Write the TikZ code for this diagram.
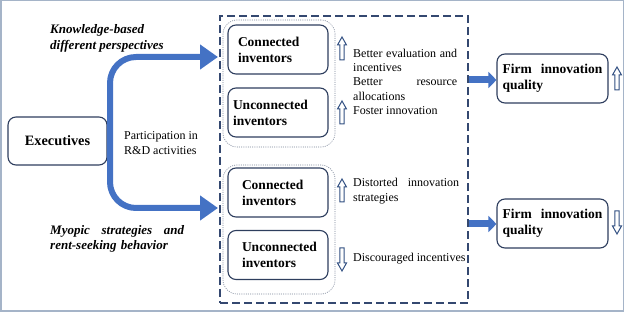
\documentclass[tikz,border=0pt]{standalone}
\usepackage{fontspec}
\setmainfont{Liberation Serif}
\usetikzlibrary{arrows.meta}
\definecolor{arrowblue}{RGB}{68,114,196}
\definecolor{boxline}{RGB}{46,62,94}
\definecolor{dashline}{RGB}{52,72,112}
\definecolor{dotline}{RGB}{120,130,150}
\definecolor{framecol}{RGB}{165,180,200}
\definecolor{hollowline}{RGB}{50,80,130}
\newcommand{\nsp}{\spaceskip=0pt\xspaceskip=0pt\relax}
\newcommand{\jline}[2]{\leavevmode\hbox to #1{#2}}
\tikzset{
  uparrowpic/.pic={\draw[draw=hollowline, fill=white, line width=1pt, line join=miter]
    (0,-11.5) -- (4.5,-3.5) -- (2.2,-3.5) -- (2.2,11.5) -- (-2.2,11.5) -- (-2.2,-3.5) -- (-4.5,-3.5) -- cycle;}
}
\begin{document}
\begin{tikzpicture}[x=1pt,y=-1pt,
  rbox/.style={draw=boxline, line width=1.1pt, rounded corners=8pt, inner sep=0pt,
    minimum height=49pt, align=left, font=\fontsize{13.5}{16}\selectfont\bfseries},
  dashbox/.style={draw=dashline, line width=1.2pt, dash pattern=on 8pt off 4pt, inner sep=0pt},
  dotbox/.style={draw=dotline, line width=0.6pt, dash pattern=on 1pt off 1.2pt, rounded corners=14pt, inner sep=0pt},
  bigarrow/.style={draw=arrowblue, line width=6pt, rounded corners=26pt, -{Triangle[length=18pt,width=24pt]}},
  medarrow/.style={draw=arrowblue, line width=7pt, -{Triangle[length=8pt,width=16pt]}},
  txt/.style={inner sep=0pt, anchor=base west, align=left, font=\fontsize{12}{14.2}\selectfont},
  bitxt/.style={inner sep=0pt, anchor=base west, align=left, font=\fontsize{13}{15.5}\selectfont\bfseries\itshape},
]
\useasboundingbox (0,0) rectangle (624,312);
\draw[framecol, line width=1.5pt] (0.75,0.75) rectangle (623.25,311.25);

% executives
\node[rbox, minimum width=99pt, minimum height=48pt, align=center, font=\fontsize{14.3}{17}\selectfont\bfseries] (exec) at (57.5,141) {Executives};

% containers
\node[dashbox, minimum width=248pt, minimum height=287pt] (dbox) at (344,159.5) {};
\node[dotbox, minimum width=112pt, minimum height=127pt] (dot1) at (279,83.5) {};
\node[dotbox, minimum width=112pt, minimum height=129pt] (dot2) at (279,229.5) {};

% inventor boxes
\node[rbox, minimum width=100pt, text width=80pt] (ci1) at (278,49.5) {Connected\\inventors};
\node[rbox, minimum width=100pt, text width=90pt] (ui1) at (278,112.5) {Unconnected\\inventors};
\node[rbox, minimum width=100pt, text width=72pt] (ci2) at (278,192.5) {Connected\\inventors};
\node[rbox, minimum width=100pt, text width=72pt] (ui2) at (278,255) {Unconnected\\inventors};

% firm boxes
\node[rbox, minimum width=111pt, text width=100pt] (f1) at (552.5,78.5) {\jline{100pt}{Firm\hfill innovation}\\quality};
\node[rbox, minimum width=111pt, text width=100pt] (f2) at (552.5,223.5) {\jline{100pt}{Firm\hfill innovation}\\quality};

% big blue arrows
\coordinate (jn) at (110,141);
\coordinate (t1) at (218,57);
\coordinate (t2) at (218,208);
\draw[bigarrow] (jn) |- (t1);
\draw[bigarrow] (jn) |- (t2);

% right arrows
\draw[medarrow] (dbox.east |- 0,80) -- (f1.west |- 0,80);
\draw[medarrow] (dbox.east |- 0,224) -- (f2.west |- 0,224);

% labels
\node[bitxt, text width=130pt] (kb) at (50,34) {\nsp Knowledge-based\\different perspectives};
\node[bitxt, text width=140pt] (my) at (50,234.5) {\jline{134pt}{Myopic\hfill strategies\hfill and}\\rent-seeking behavior};
\node[txt, text width=80pt] (rd) at (124,140) {\nsp Participation in\\R\&D activities};

\node[txt, text width=112pt] (e1) at (353,57.5) {\nsp\jline{104pt}{Better\hfill evaluation\hfill and}\\incentives\\\jline{104pt}{Better\hfill resource}\\allocations\\Foster innovation};
\node[txt, text width=112pt] (e2) at (353,187) {\jline{106pt}{Distorted\hfill innovation}\\strategies};
\node[txt, text width=115pt] (e3) at (353,262) {\nsp Discouraged incentives};

% hollow arrows
\pic at (342,48.5) {uparrowpic};
\pic at (342,112.5) {uparrowpic};
\pic at (342,190.5) {uparrowpic};
\pic[rotate=180] at (342,259.5) {uparrowpic};
\pic at (617,78.5) {uparrowpic};
\pic[rotate=180] at (617,222.5) {uparrowpic};
\end{tikzpicture}
\end{document}
